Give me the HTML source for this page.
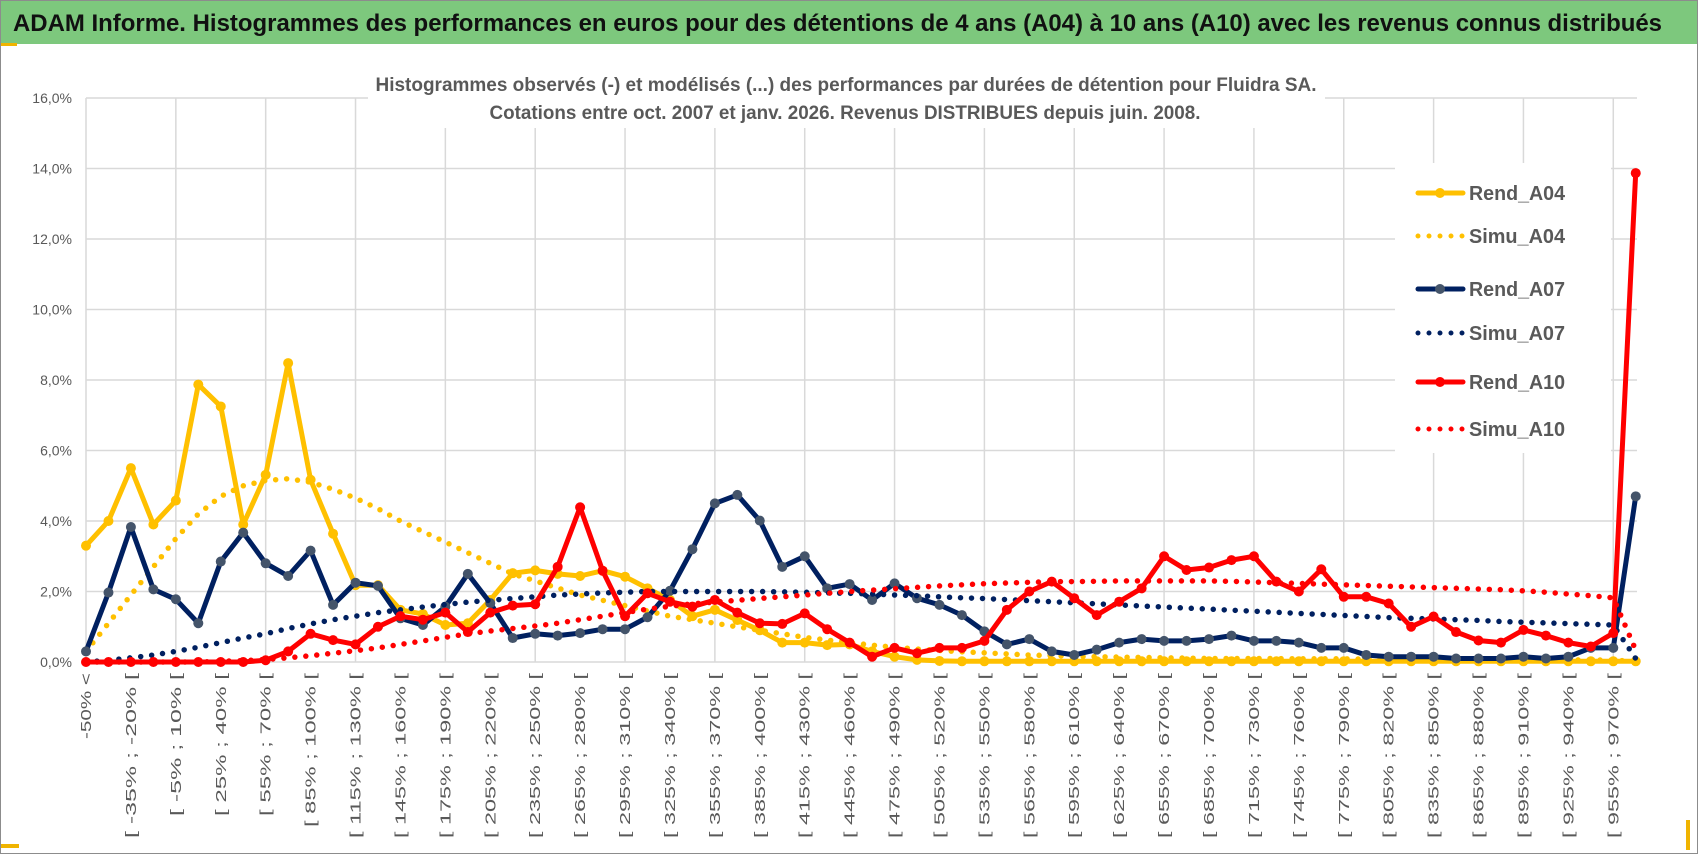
<!DOCTYPE html>
<html><head><meta charset="utf-8"><style>
html,body{margin:0;padding:0;background:#fff;}
svg{display:block;font-family:"Liberation Sans",sans-serif;}
</style></head><body>
<svg id="chart" width="1698" height="854" viewBox="0 0 1698 854">
<rect x="0.5" y="0.5" width="1697" height="853" fill="#fff" stroke="#8c8c8c"/>
<rect x="1" y="1" width="1696" height="43" fill="#7dc87d"/>
<rect x="1" y="43" width="16" height="3" fill="#f0b400"/>
<rect x="1" y="844" width="18" height="4" fill="#f0b400"/>
<rect x="1686" y="820" width="4" height="30" fill="#f0b400"/>
<text x="13" y="31" font-size="24" font-weight="bold" fill="#111" textLength="1649" lengthAdjust="spacingAndGlyphs">ADAM Informe. Histogrammes des performances en euros pour des détentions de 4 ans (A04) à 10 ans (A10) avec les revenus connus distribués</text>
<g id="grid"></g>
<rect x="368" y="70" width="957" height="58" fill="#fff"/>
<text x="846" y="91" font-size="19" font-weight="bold" fill="#595959" text-anchor="middle" textLength="941" lengthAdjust="spacingAndGlyphs">Histogrammes observés (-) et modélisés (...) des performances par durées de détention pour Fluidra SA.</text>
<text x="845" y="119" font-size="19" font-weight="bold" fill="#595959" text-anchor="middle" textLength="711" lengthAdjust="spacingAndGlyphs">Cotations entre oct. 2007 et janv. 2026. Revenus DISTRIBUES depuis juin. 2008.</text>
<g id="axes"></g>
<g id="series"></g>
<g id="legend"></g>
</svg>
<script>
const categoryCount = 70;
const yTicks = [0,2,4,6,8,10,12,14,16];
const yTickLabels = ["0,0%","2,0%","4,0%","6,0%","8,0%","10,0%","12,0%","14,0%","16,0%"];
const rendA04 = [3.3,4.0,5.5,3.9,4.58,7.87,7.25,3.9,5.31,8.48,5.17,3.64,2.18,2.18,1.48,1.36,1.05,1.1,1.76,2.52,2.6,2.5,2.44,2.59,2.42,2.09,1.76,1.3,1.48,1.19,0.9,0.55,0.55,0.48,0.5,0.3,0.15,0.06,0.03,0.02,0.02,0.02,0.02,0.02,0.02,0.02,0.02,0.02,0.02,0.02,0.02,0.02,0.02,0.02,0.02,0.02,0.02,0.02,0.02,0.02,0.02,0.02,0.02,0.02,0.02,0.02,0.02,0.02,0.02,0.02];
const simuA04 = [0.3,1.1,1.9,2.7,3.5,4.2,4.7,5.0,5.15,5.2,5.1,4.9,4.65,4.35,4.0,3.7,3.4,3.1,2.8,2.5,2.3,2.1,1.9,1.75,1.6,1.45,1.3,1.2,1.1,1.0,0.9,0.8,0.7,0.62,0.55,0.48,0.42,0.37,0.33,0.29,0.26,0.23,0.2,0.18,0.16,0.15,0.14,0.13,0.12,0.11,0.1,0.1,0.1,0.1,0.09,0.09,0.09,0.08,0.08,0.08,0.08,0.07,0.07,0.07,0.07,0.06,0.06,0.06,0.05,0.02];
const rendA07 = [0.3,1.97,3.83,2.06,1.78,1.1,2.85,3.67,2.8,2.44,3.16,1.62,2.25,2.16,1.24,1.05,1.57,2.5,1.67,0.68,0.8,0.75,0.82,0.93,0.93,1.27,2.02,3.2,4.5,4.74,4.01,2.7,3.0,2.09,2.21,1.76,2.23,1.81,1.62,1.33,0.87,0.5,0.65,0.3,0.2,0.35,0.55,0.65,0.6,0.6,0.65,0.75,0.6,0.6,0.55,0.4,0.4,0.2,0.15,0.15,0.15,0.1,0.1,0.1,0.15,0.1,0.15,0.4,0.4,4.7];
const simuA07 = [0,0.05,0.12,0.2,0.3,0.42,0.55,0.68,0.8,0.95,1.08,1.2,1.3,1.4,1.48,1.56,1.63,1.7,1.75,1.8,1.85,1.9,1.93,1.96,1.98,2.0,2.0,2.0,2.0,2.0,2.0,1.99,1.98,1.96,1.95,1.93,1.9,1.88,1.85,1.82,1.8,1.77,1.74,1.71,1.68,1.65,1.62,1.59,1.56,1.53,1.5,1.47,1.44,1.41,1.38,1.35,1.32,1.29,1.26,1.24,1.22,1.2,1.18,1.15,1.13,1.11,1.09,1.07,1.05,0.1];
const rendA10 = [0,0,0,0,0,0,0,0,0.05,0.3,0.8,0.62,0.5,1.0,1.3,1.2,1.4,0.85,1.4,1.6,1.64,2.7,4.39,2.59,1.3,1.95,1.71,1.57,1.76,1.4,1.1,1.08,1.38,0.93,0.55,0.15,0.4,0.25,0.4,0.4,0.6,1.48,2.0,2.28,1.81,1.33,1.71,2.09,3.0,2.61,2.68,2.89,3.0,2.28,2.0,2.63,1.85,1.85,1.66,1.0,1.29,0.85,0.61,0.55,0.91,0.75,0.55,0.44,0.82,13.87];
const simuA10 = [0,0,0,0,0,0,0.02,0.04,0.07,0.12,0.18,0.25,0.32,0.4,0.5,0.6,0.7,0.8,0.88,0.95,1.02,1.1,1.2,1.3,1.4,1.5,1.58,1.65,1.7,1.75,1.8,1.85,1.9,1.95,2.0,2.04,2.08,2.12,2.16,2.19,2.22,2.24,2.26,2.28,2.28,2.29,2.3,2.3,2.3,2.3,2.3,2.29,2.27,2.25,2.23,2.21,2.19,2.17,2.15,2.13,2.11,2.09,2.07,2.05,2.02,1.98,1.93,1.88,1.82,0.34];

const NS = "http://www.w3.org/2000/svg";
const X0 = 86, XSTEP = 22.46, Y0 = 662, YSCALE = 35.25;
function xPos(i){ return X0 + i * XSTEP; }
function yPos(v){ return Y0 - v * YSCALE; }
function mk(tag, attrs, parent){
  const el = document.createElementNS(NS, tag);
  for (const k in attrs) el.setAttribute(k, attrs[k]);
  parent.appendChild(el);
  return el;
}
function catLabel(i){
  if (i === 0) return "-50% <";
  const a = -50 + 15*(i-1), b = a + 15;
  return "[ " + a + "% ; " + b + "% [";
}
const grid = document.getElementById('grid');
const axes = document.getElementById('axes');
const series = document.getElementById('series');
const legend = document.getElementById('legend');
const XEND = 1637;

yTicks.forEach((t, k) => {
  const gl = mk('line', {x1: X0, x2: XEND, y1: yPos(t), y2: yPos(t), stroke: '#d9d9d9', 'stroke-width': 1.5}, grid);
  
  
  const tl = mk('text', {x: 72, y: yPos(t) + 5, 'font-size': 14, fill: '#595959', 'text-anchor': 'end'}, axes);
  tl.textContent = yTickLabels[k];
  
  
});
for (let i = 0; i < categoryCount; i += 4) {
  const vl = mk('line', {x1: xPos(i), x2: xPos(i), y1: yPos(16), y2: Y0, stroke: '#d9d9d9', 'stroke-width': 1.5}, grid);
  
  
}
for (let i = 0; i < categoryCount - 1; i += 2) {
  const s = catLabel(i);
  const x = xPos(i) + 5, y = 673;
  const t = mk('text', {x: x, y: y, 'font-size': 15, fill: '#595959', 'text-anchor': 'end', transform: 'rotate(-90 ' + x + ' ' + y + ')', textLength: s.length * 11, lengthAdjust: 'spacingAndGlyphs'}, axes);
  t.textContent = s;
  
  
}

function drawSeries(vals, color, dotted, markerFill, name){
  const g = mk('g', {}, series);
  
  
  const pts = vals.map((v, i) => xPos(i).toFixed(1) + ',' + yPos(v).toFixed(1)).join(' ');
  const attrs = {points: pts, fill: 'none', stroke: color, 'stroke-width': dotted ? 5.5 : 5, 'stroke-linejoin': 'round', 'stroke-linecap': 'round'};
  if (dotted) attrs['stroke-dasharray'] = '0 11';
  const pl = mk('polyline', attrs, g);
  
  
  if (!dotted) {
    vals.forEach((v, i) => {
      const c = mk('circle', {cx: xPos(i), cy: yPos(v), r: 5, fill: markerFill}, g);
      
      
    });
  }
}
drawSeries(rendA04, '#ffc000', false, '#ffc000', 'rend-a04');
drawSeries(simuA04, '#ffc000', true, null, 'simu-a04');
drawSeries(rendA07, '#002060', false, '#44546a', 'rend-a07');
drawSeries(simuA07, '#002060', true, null, 'simu-a07');
drawSeries(simuA10, '#ff0000', true, null, 'simu-a10');
drawSeries(rendA10, '#ff0000', false, '#ff0000', 'rend-a10');

const lb = mk('rect', {x: 1395, y: 163, width: 216, height: 290, fill: '#fff'}, legend);


const legendNames = ['Rend_A04','Simu_A04','Rend_A07','Simu_A07','Rend_A10','Simu_A10'];
const legendColors = ['#ffc000','#ffc000','#002060','#002060','#ff0000','#ff0000'];
const legendMarkers = ['#ffc000',null,'#44546a',null,'#ff0000',null];
const legendY = [193,236,289,333,382,429];
legendNames.forEach((n, k) => {
  const y = legendY[k];
  const dotted = legendMarkers[k] === null;
  const la = {x1: 1418, x2: 1463, y1: y, y2: y, stroke: legendColors[k], 'stroke-width': 5, 'stroke-linecap': 'round'};
  if (dotted) la['stroke-dasharray'] = '0 11';
  const ln = mk('line', la, legend);
  
  
  if (!dotted) {
    const c = mk('circle', {cx: 1440, cy: y, r: 5, fill: legendMarkers[k]}, legend);
    
    
  }
  const t = mk('text', {x: 1469, y: y + 7, 'font-size': 20, 'font-weight': 'bold', fill: '#595959', textLength: 96, lengthAdjust: 'spacingAndGlyphs'}, legend);
  t.textContent = n;
  
  
});
</script>
</body></html>
